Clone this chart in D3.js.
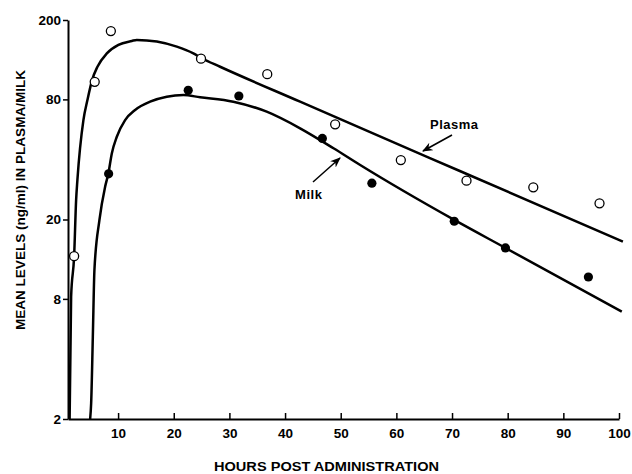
<!DOCTYPE html>
<html>
<head>
<meta charset="utf-8">
<script src="https://cdn.jsdelivr.net/npm/d3@7"></script>
<style>
  body { margin: 0; background: #fff; }
  text { font-family: "Liberation Sans", Arial, sans-serif; font-weight: bold; fill: #000; }
</style>
</head>
<body>
<svg id="chart" width="632" height="474"></svg>
<script>
// observed points (hours, ng/ml)
const plasmaHours = [2.1, 5.8, 8.7, 24.9, 36.8, 49, 60.8, 72.6, 84.6, 96.5];
const plasmaLevels = [13.1, 98, 176, 128, 107, 60, 39.7, 31.3, 29.0, 24.1];
const milkHours = [8.3, 22.6, 31.7, 46.7, 55.6, 70.4, 79.6, 94.5];
const milkLevels = [33.9, 88.8, 83.2, 51, 30.4, 19.6, 14.4, 10.3];

// fitted curves
const plasmaFitHours = [1.29, 1.56, 2.1, 2.46, 2.69, 3.77, 4.49, 5.33, 6.29, 7.98, 10.06, 12.47, 13.36, 16.96, 20.55, 23.53, 25.04, 28.33, 42.7, 71.4, 100.7];
const plasmaFitLevels = [2.0, 8.2, 13.1, 25.1, 31.6, 63, 79.4, 100, 116.6, 136, 150, 157, 159, 156, 147, 136, 128.6, 116.6, 77.9, 35, 15.5];
const milkFitHours = [4.98, 5.16, 5.46, 5.75, 6.65, 7.67, 8.26, 8.87, 9.77, 11.26, 13.06, 15.75, 18.75, 21.73, 24.74, 30.7, 36.7, 42.7, 48.7, 53.5, 70.4, 79.6, 100.5];
const milkFitLevels = [2.0, 2.4, 5.15, 11.2, 19.9, 29.2, 34.1, 42.9, 52, 63, 70.8, 77.9, 82.5, 84.1, 82, 77.9, 69.4, 57.3, 45.5, 37.5, 19.9, 14.4, 6.9];

const xTicks = [10, 20, 30, 40, 50, 60, 70, 80, 90, 100];
const yTicks = [2, 8, 20, 80, 200];

const svg = d3.select('#chart');
const x = d3.scaleLinear().domain([1, 100]).range([68, 619]);
const y = d3.scaleLog().domain([2, 200]).range([419, 20]);

svg.append('defs').append('marker')
  .attr('id', 'arrow').attr('viewBox', '0 0 10 10').attr('refX', 9).attr('refY', 5)
  .attr('markerWidth', 7).attr('markerHeight', 7).attr('orient', 'auto')
  .append('path').attr('d', 'M0,1 L10,5 L0,9 L3,5 Z').attr('fill', '#000');

const xAxis = svg.append('g').attr('transform', `translate(0,${y(2)})`)
  .call(d3.axisBottom(x).tickValues(xTicks).tickSize(-6).tickSizeOuter(0).tickPadding(9));
const yAxis = svg.append('g').attr('transform', `translate(${x(1)},0)`)
  .call(d3.axisLeft(y).tickValues(yTicks).tickFormat(d3.format('d')).tickSize(5).tickSizeOuter(0).tickPadding(2));
[xAxis, yAxis].forEach(a => {
  a.select('.domain').attr('stroke-width', 2);
  a.selectAll('.tick line').attr('stroke-width', 1.5);
  a.selectAll('text').attr('font-size', 13.5).attr('font-family', '"Liberation Sans", Arial, sans-serif').attr('font-weight', 'bold');
});

const line = d3.line().x(d => x(d[0])).y(d => y(d[1])).curve(d3.curveMonotoneX);
[[plasmaFitHours, plasmaFitLevels], [milkFitHours, milkFitLevels]].forEach(([hs, vs]) => {
  svg.append('path').attr('d', line(d3.zip(hs, vs)))
    .attr('fill', 'none').attr('stroke', '#000').attr('stroke-width', 2.5);
});

svg.append('g').selectAll('circle').data(d3.zip(plasmaHours, plasmaLevels)).join('circle')
  .attr('cx', d => x(d[0])).attr('cy', d => y(d[1])).attr('r', 4.5)
  .attr('fill', '#fff').attr('stroke', '#000').attr('stroke-width', 1.3);
svg.append('g').selectAll('circle').data(d3.zip(milkHours, milkLevels)).join('circle')
  .attr('cx', d => x(d[0])).attr('cy', d => y(d[1])).attr('r', 4.6).attr('fill', '#000');

// annotations
svg.append('text').attr('x', 430).attr('y', 129).attr('font-size', 13).attr('textLength', 48).text('Plasma');
svg.append('line').attr('x1', 452).attr('y1', 135).attr('x2', 423).attr('y2', 151)
  .attr('stroke', '#000').attr('stroke-width', 1.5).attr('marker-end', 'url(#arrow)');
svg.append('text').attr('x', 295).attr('y', 199).attr('font-size', 13).attr('textLength', 27).text('Milk');
svg.append('line').attr('x1', 313).attr('y1', 182).attr('x2', 340).attr('y2', 158)
  .attr('stroke', '#000').attr('stroke-width', 1.5).attr('marker-end', 'url(#arrow)');

svg.append('text').attr('x', 214).attr('y', 471).attr('font-size', 13.5)
  .attr('textLength', 225).attr('lengthAdjust', 'spacingAndGlyphs')
  .text('HOURS POST ADMINISTRATION');
svg.append('text').attr('transform', 'translate(25,330) rotate(-90)').attr('font-size', 13)
  .attr('textLength', 260).attr('lengthAdjust', 'spacingAndGlyphs')
  .text('MEAN LEVELS (ng/ml) IN PLASMA/MILK');
</script>
</body>
</html>
